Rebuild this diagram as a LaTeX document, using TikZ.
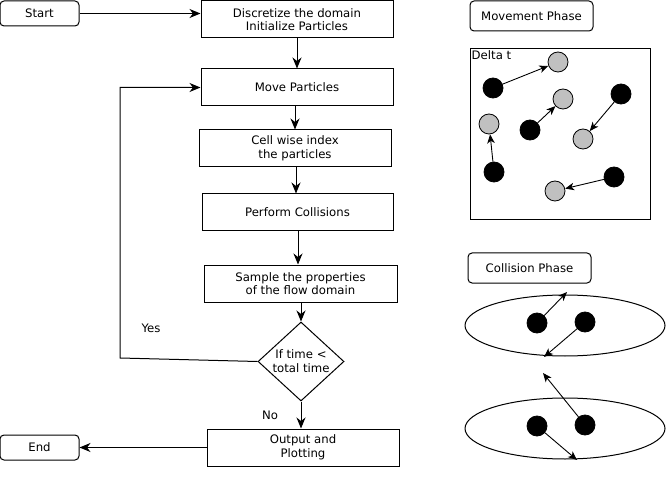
\documentclass[tikz,border=0pt]{standalone}
\usepackage{fontspec}
\setmainfont{DejaVu Sans}
\usetikzlibrary{arrows.meta,shapes.geometric}
\begin{document}
\begin{tikzpicture}[x=1pt,y=-1pt,
  font=\fontsize{11.7}{13.5}\selectfont,
  box/.style={draw,line width=1pt,rectangle,align=center,inner sep=0pt,minimum width=192pt,minimum height=37pt},
  term/.style={draw,line width=1pt,rounded corners=4pt,align=center,inner sep=0pt,minimum height=25pt},
  arr/.style={line width=1pt,-{Stealth[length=11pt,width=9pt,inset=3.5pt]}},
  parr/.style={line width=0.9pt,-{Stealth[length=9pt,width=7.5pt,inset=2.5pt]}},
  blk/.style={circle,draw,line width=0.8pt,fill=black,minimum size=20pt,inner sep=0pt},
  gry/.style={circle,draw,line width=0.8pt,fill={rgb,255:red,192;green,192;blue,192},minimum size=20pt,inner sep=0pt},
  ell/.style={ellipse,draw,line width=1pt,minimum width=200pt,minimum height=61pt,inner sep=0pt}
]
\useasboundingbox (0,0) rectangle (666,478);
% flowchart
\node[term,minimum width=79pt] (start) at (39.5,13.5) {Start};
\node[box] (disc) at (297,19.5) {Discretize the domain\\Initialize Particles};
\node[box] (move) at (297,87.5) {Move Particles};
\node[box] (cell) at (295,148.5) {Cell wise index\\the particles};
\node[box,minimum width=191pt] (coll) at (297.5,212.5) {Perform Collisions};
\node[box,minimum width=193pt] (samp) at (300.5,283.5) {Sample the properties\\of the flow domain};
\node[diamond,draw,line width=1pt,minimum width=86pt,minimum height=79pt,inner sep=0pt] (dec) at (301,361.5) {};
\node[align=center,inner sep=0pt] (dectext) at (301,361) {If time \textless\\total time};
\node[box] (out) at (303,447.5) {Output and\\Plotting};
\node[term,minimum width=79pt] (end) at (39.5,447.5) {End};
\node (yes) at (151,328) {Yes};
\node (no) at (270,415) {No};
\coordinate (loopc) at (120,358);

\draw[arr] (start.east) -- (start.east -| disc.west);
\draw[arr] (disc.south) -- (move.north);
\draw[arr] (cell.north |- move.south) -- (cell.north);
\draw[arr] (cell.south -| 296,0) -- (296,0 |- coll.north);
\draw[arr] (298,0 |- coll.south) -- (298,0 |- samp.north);
\draw[arr] (dec.north |- samp.south) -- (dec.north);
\draw[arr] (dec.south) -- (dec.south |- out.north);
\draw[arr] (dec.west) -- (loopc) |- (move.west);
\draw[arr] (out.west) -- (end.east);

% movement phase
\node[term,minimum width=123pt,minimum height=30pt] (mph) at (531.5,16) {Movement Phase};
\node[draw,line width=1pt,minimum width=180pt,minimum height=171pt,inner sep=0pt] (dom) at (560,134.5) {};
\node[anchor=north west,inner sep=2pt] (dt) at (dom.north west) {Delta t};
\node[blk] (b1) at (493,88) {};
\node[blk] (b2) at (530,130) {};
\node[blk] (b3) at (621,94) {};
\node[blk] (b4) at (494,172) {};
\node[blk] (b5) at (614,177) {};
\node[gry] (g1) at (558,62) {};
\node[gry] (g2) at (563,99) {};
\node[gry] (g3) at (489,124) {};
\node[gry] (g4) at (583,139) {};
\node[gry] (g5) at (555,191) {};
\draw[parr] (b1) -- (g1);
\draw[parr] (b2) -- (g2);
\draw[parr] (b3) -- (g4);
\draw[parr] (b4) -- (g3);
\draw[parr] (b5) -- (g5);

% collision phase
\node[term,minimum width=123pt,minimum height=30pt] (cph) at (529.5,268) {Collision Phase};
\node[ell] (e1) at (565,325.5) {};
\node[ell] (e2) at (565,428.5) {};
\node[blk] (c1) at (537,323) {};
\node[blk] (c2) at (585,322) {};
\node[blk] (c3) at (537,426) {};
\node[blk] (c4) at (585,425) {};
\coordinate (p1) at (567,292);
\coordinate (p2) at (544,357);
\coordinate (p3) at (543,373);
\coordinate (p4) at (577,460);
\draw[parr] (c1) -- (p1);
\draw[parr] (c2) -- (p2);
\draw[parr] (c4) -- (p3);
\draw[parr] (c3) -- (p4);
\end{tikzpicture}
\end{document}
